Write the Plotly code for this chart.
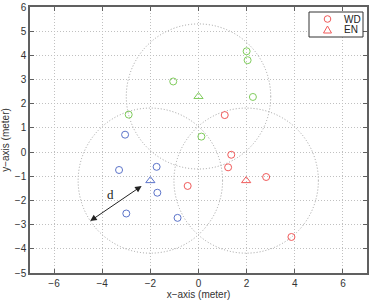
import plotly.graph_objects as go

# ---- data ----
groups = ["red", "green", "blue"]
colors = {"red": "#f05a5a", "green": "#7fcc5c", "blue": "#5b73c9"}

wd_x = {
    "red": [1.09, -0.45, 1.36, 1.23, 2.81, 3.86],
    "green": [-1.05, -2.9, 2.0, 2.04, 2.26, 0.12],
    "blue": [-3.05, -3.3, -1.74, -1.71, -3.0, -0.87],
}
wd_y = {
    "red": [1.53, -1.4, -0.11, -0.63, -1.03, -3.51],
    "green": [2.92, 1.55, 4.17, 3.8, 2.28, 0.64],
    "blue": [0.72, -0.74, -0.61, -1.68, -2.54, -2.72],
}
en_x = {"red": 1.98, "green": 0.0, "blue": -2.0}
en_y = {"red": -1.18, "green": 2.3, "blue": -1.18}
radius = 3.0

arrow_start = (-2.3, -1.36)
arrow_end = (-4.5, -2.85)
d_label_pos = (-3.64, -1.76)

legend_labels = ["WD", "EN"]

x_ticks = [-6, -4, -2, 0, 2, 4, 6]
y_ticks = [-5, -4, -3, -2, -1, 0, 1, 2, 3, 4, 5, 6]

fig = go.Figure()

# circles around each EN
for g in groups:
    fig.add_shape(
        type="circle", xref="x", yref="y",
        x0=en_x[g] - radius, x1=en_x[g] + radius,
        y0=en_y[g] - radius, y1=en_y[g] + radius,
        line=dict(color="#a0a0a0", width=1, dash="1px,2px"),
        layer="below",
    )

for g in groups:
    fig.add_trace(go.Scatter(
        x=wd_x[g], y=wd_y[g], mode="markers",
        marker=dict(symbol="circle-open", size=7, color=colors[g],
                    line=dict(width=1, color=colors[g])),
        name="WD", showlegend=False,
    ))
for g in groups:
    fig.add_trace(go.Scatter(
        x=[en_x[g]], y=[en_y[g]], mode="markers",
        marker=dict(symbol="triangle-up-open", size=8, color=colors[g],
                    line=dict(width=1, color=colors[g])),
        name="EN", showlegend=False,
    ))

# double-headed arrow
fig.add_annotation(
    x=arrow_end[0], y=arrow_end[1], ax=arrow_start[0], ay=arrow_start[1],
    xref="x", yref="y", axref="x", ayref="y",
    showarrow=True, arrowhead=2, startarrowhead=2, arrowside="end+start",
    arrowsize=1.3, startarrowsize=1.3, arrowwidth=1, arrowcolor="#222", text="",
)
fig.add_annotation(
    x=d_label_pos[0], y=d_label_pos[1], xref="x", yref="y", text="d",
    showarrow=False, font=dict(family="Liberation Serif", size=13, color="#222"),
)

# ---- compact legend (MATLAB style) ----
# plot area: page px x 30..367, y 7..273
def px2paper_x(px):
    return (px - 30) / 337.0

def px2paper_y(py):
    return (273 - py) / 266.0

fig.add_shape(type="rect", xref="paper", yref="paper",
              x0=px2paper_x(309), x1=px2paper_x(363),
              y0=px2paper_y(37), y1=px2paper_y(12),
              line=dict(color="#333", width=1), fillcolor="white", layer="above")
row_py = [19, 30]
for label, py in zip(legend_labels, row_py):
    fig.add_annotation(x=px2paper_x(342), y=px2paper_y(py), xref="paper", yref="paper",
                       text=label, showarrow=False, xanchor="left", yanchor="middle",
                       font=dict(family="Liberation Sans", size=10, color="#222"))
# legend symbols
fig.add_shape(type="circle", xref="paper", yref="paper", xsizemode="pixel", ysizemode="pixel",
              xanchor=px2paper_x(327.5), yanchor=px2paper_y(row_py[0]),
              x0=-3.3, x1=3.3, y0=-3.3, y1=3.3,
              line=dict(color=colors["red"], width=1), layer="above")
fig.add_shape(type="path", xref="paper", yref="paper", xsizemode="pixel", ysizemode="pixel",
              xanchor=px2paper_x(327.5), yanchor=px2paper_y(row_py[1]),
              path="M -4 -3 L 4 -3 L 0 4 Z",
              line=dict(color=colors["red"], width=1), layer="above")

axis_common = dict(
    showgrid=True, gridcolor="#c0c0c0", griddash="1px,2px", gridwidth=1,
    zeroline=False, showline=True, linecolor="#606060", linewidth=1.5,
    mirror="ticks", ticks="inside", ticklen=4, tickcolor="#606060",
    tickfont=dict(family="Liberation Sans", size=10, color="#333"),
    automargin=False,
)

fig.update_xaxes(range=[-7, 7], tickvals=x_ticks,
                 ticktext=[str(v).replace("-", "\u2212") for v in x_ticks], **axis_common,
                 title=dict(text="x\u2212axis (meter)", standoff=1,
                            font=dict(family="Liberation Sans", size=10, color="#333")))
fig.update_yaxes(range=[-5, 6], tickvals=y_ticks,
                 ticktext=[str(v).replace("-", "\u2212") for v in y_ticks], **axis_common,
                 title=dict(text="y\u2212axis (meter)", standoff=3,
                            font=dict(family="Liberation Sans", size=10, color="#333")))

fig.update_layout(
    width=374, height=300,
    margin=dict(l=30, r=7, t=7, b=27),
    paper_bgcolor="white", plot_bgcolor="white",
    showlegend=False,
)

fig.write_html("out.html", config={"displayModeBar": False},
               post_script="document.body.style.margin='0';")
